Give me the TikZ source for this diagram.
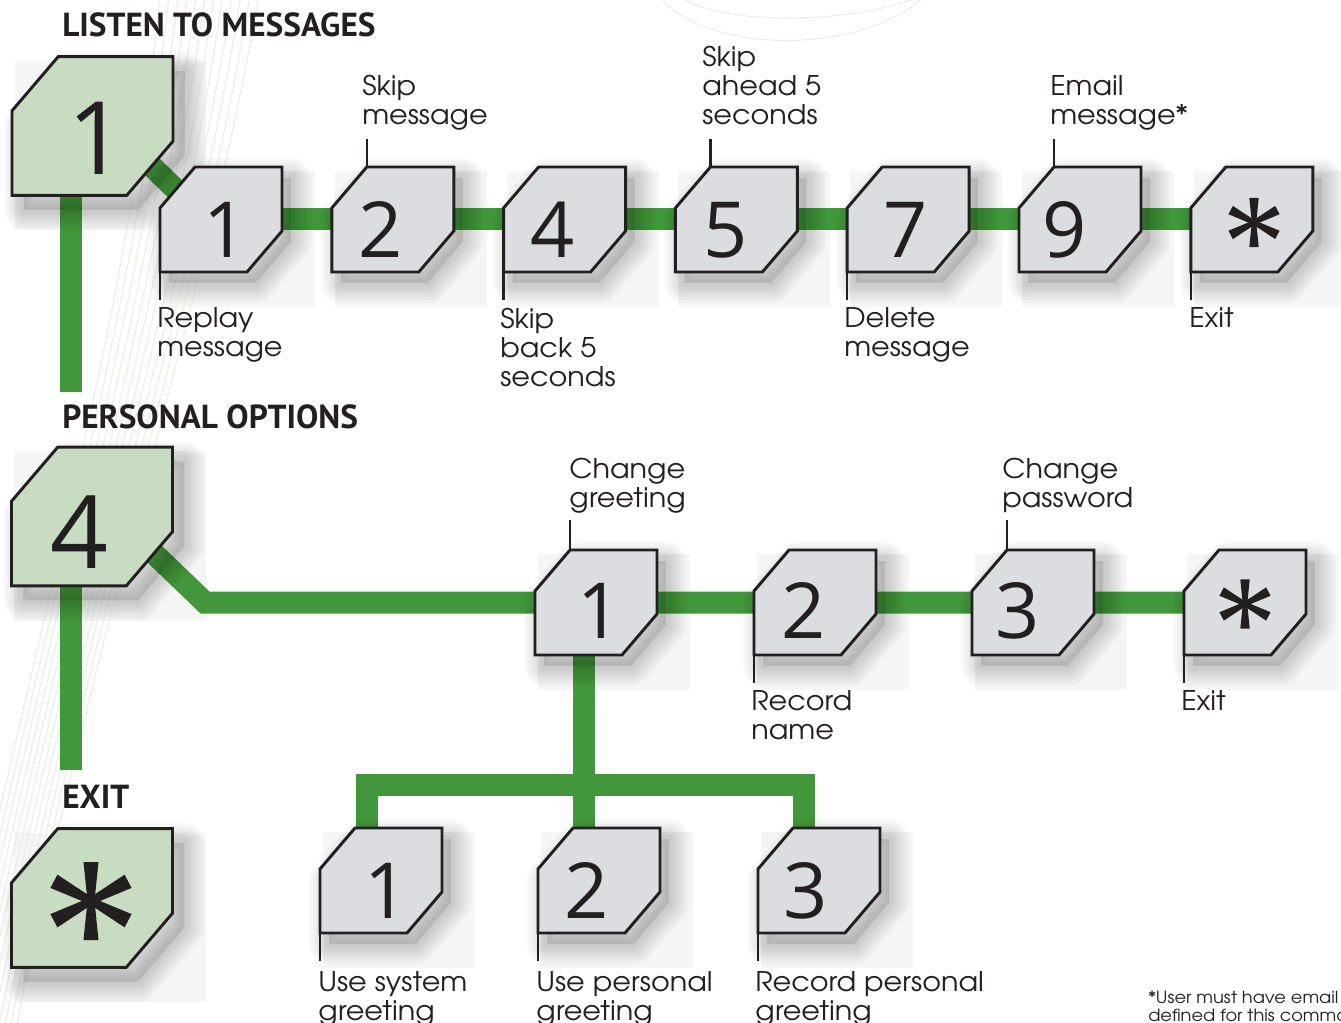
\documentclass[tikz,border=0pt]{standalone}
\usepackage{fontspec}
\setmainfont{texgyreadventor}[Extension=.otf,UprightFont=*-regular,BoldFont=*-bold,ItalicFont=*-italic,BoldItalicFont=*-bolditalic,FakeStretch=1.06]
\newfontfamily\hdfont{PT Sans}
\newfontfamily\digfont{Open Sans}[Numbers=Proportional]
\usetikzlibrary{calc}
\pgfdeclarelayer{boxes}\pgfdeclarelayer{deco}\pgfdeclarelayer{lines}\pgfdeclarelayer{shadows}
\pgfsetlayers{boxes,deco,lines,shadows,main}
\definecolor{ink}{RGB}{35,31,32}
\definecolor{lgreen}{RGB}{66,150,60}
\definecolor{keygrey}{RGB}{220,221,224}
\definecolor{keygreen}{RGB}{200,220,193}
\definecolor{boxgrey}{RGB}{245,245,245}
\definecolor{swooshc}{RGB}{232,238,230}
\newcommand\labfont{\fontsize{20.3}{21.75}\selectfont}
\tikzset{
  keyline/.style={draw=ink,line width=2.2pt,line join=miter},
  greenline/.style={draw=lgreen,line width=16.5pt,line join=miter},
  tickline/.style={draw=ink,line width=1.9pt},
  lab/.style={anchor=base west,align=left,inner sep=0pt,text=ink,font=\labfont},
  hdr/.style={anchor=base west,inner sep=0pt,text=ink,font=\hdfont\bfseries\fontsize{25}{28}\selectfont},
  dig/.style={anchor=base,inner sep=0pt,text=ink,font=\digfont\fontsize{58}{62}\selectfont},
  bigdig/.style={anchor=base,inner sep=0pt,text=ink,font=\digfont\fontsize{76}{80}\selectfont},
  foot/.style={anchor=base west,align=left,inner sep=0pt,text=ink,font=\fontsize{12.6}{13.5}\selectfont},
  swoosh/.style={draw=swooshc,line width=0.8pt},
}
\newcommand\keyshape[5]{%
  \pgfmathsetmacro\khw{61*#4}\pgfmathsetmacro\khh{52.5*#4}%
  \coordinate (#1) at (#2,#3);
  \begin{pgfonlayer}{boxes}
    \fill[boxgrey] ({#2-\khw+3},{#3-\khh+4}) rectangle ({#2+\khw+33},{#3+\khh+35});
  \end{pgfonlayer}
  \begin{scope}[shift={(#2,#3)},scale=#4]
    \begin{pgfonlayer}{shadows}
      \foreach \lw in {30,26,22,18,14,10,6}{
        \draw[black,opacity=.022,line width=\lw pt,line join=round]
          (-17,-41.5) -- (70,-41.5) -- (70,22.5) -- (35,63.5) -- (-52,63.5) -- (-52,-0.5) -- cycle;}
      \fill[black,opacity=.10] (-17,-41.5) -- (70,-41.5) -- (70,22.5) -- (35,63.5) -- (-52,63.5) -- (-52,-0.5) -- cycle;
    \end{pgfonlayer}
    \draw[keyline,fill=#5] (-26,-52.5) -- (61,-52.5) -- (61,11.5) -- (26,52.5) -- (-61,52.5) -- (-61,-11.5) -- cycle;
  \end{scope}}
\newcommand\astk[4]{%
  \begin{scope}[shift={(#2,#3)},scale=#4]
    \coordinate (#1) at (0,0);
    \foreach \a/\l in {90/39,270/39,28/42,152/42,208/42,332/42}{
      \fill[ink,rotate=\a] (0,-3.5) -- (\l,-7.5) -- (\l,7.5) -- (0,3.5) -- cycle;}
  \end{scope}}
\begin{document}
\begin{tikzpicture}[x=0.75pt,y=-0.75pt]
\useasboundingbox (0,0) rectangle (1341,1023);
% background swoosh
\begin{pgfonlayer}{deco}
  \foreach \i in {0,...,11}{
    \draw[swoosh] ({160+9*\i},-5) .. controls ({130+7*\i},300) and ({40+5*\i},620) .. ({-50+6*\i},1030);}
  \draw[swoosh] (680,-3) .. controls (720,25) and (850,25) .. (918,-3);
  \draw[swoosh] (659,-3) .. controls (710,55) and (860,55) .. (924,-3);
\end{pgfonlayer}
% big keys
\keyshape{B1}{92.5}{126}{1.32}{keygreen}
\keyshape{B4}{92}{516.5}{1.32}{keygreen}
\keyshape{BX}{92}{898}{1.32}{keygreen}
% row 1
\keyshape{A1}{221}{219.5}{1}{keygrey}
\keyshape{A2}{392.8}{219.5}{1}{keygrey}
\keyshape{A4}{564.6}{219.5}{1}{keygrey}
\keyshape{A5}{736.4}{219.5}{1}{keygrey}
\keyshape{A7}{908.2}{219.5}{1}{keygrey}
\keyshape{A9}{1080}{219.5}{1}{keygrey}
\keyshape{AX}{1251.8}{219.5}{1}{keygrey}
% row 2
\keyshape{P1}{596}{602.5}{1}{keygrey}
\keyshape{P2}{815}{602.5}{1}{keygrey}
\keyshape{P3}{1033}{602.5}{1}{keygrey}
\keyshape{PX}{1245}{602.5}{1}{keygrey}
% row 3
\keyshape{Q1}{381}{880.5}{1}{keygrey}
\keyshape{Q2}{599}{880.5}{1}{keygrey}
\keyshape{Q3}{819}{880.5}{1}{keygrey}
% free ends / bends
\coordinate (v1) at (71,392);
\coordinate (v4) at (71,770);
\coordinate (bend4) at (205,602.5);
\coordinate (tj) at (584,785);
% connectors
\begin{pgfonlayer}{lines}
  \draw[greenline] ($(B1)+(-21.5,0)$) -- (v1);
  \draw[greenline] ($(B4)+(-21,0)$) -- (v4);
  \draw[greenline] ($(B1)+(42.5,24)$) -- ($(A1)+(-16,-1.5)$);
  \draw[greenline] (A1) -- (A2) -- (A4) -- (A5) -- (A7) -- (A9) -- (AX);
  \draw[greenline] ($(B4)+(48,23.5)$) -- (bend4) -- (P1) -- (P2) -- (P3) -- (PX);
  \draw[greenline] ($(P1)+(-12,0)$) -- (tj);
  \draw[greenline] ($(Q1)+(-14.5,0)$) -- ++(0,-95.5) -| ($(Q3)+(-15,0)$);
  \draw[greenline] ($(Q2)+(-15,0)$) -- (tj);
\end{pgfonlayer}
% digits
\node[bigdig] (B1d) at (95,175) {1};
\node[bigdig] (B4d) at (79,568) {4};
\astk{BXd}{91}{901}{1}
\node[dig] (A1d) at (224,258) {1};
\node[dig] (A2d) at (381,258) {2};
\node[dig] (A4d) at (553,258) {4};
\node[dig] (A5d) at (726,258) {5};
\node[dig] (A7d) at (906,258) {7};
\node[dig] (A9d) at (1065,258) {9};
\astk{AXd}{1254}{222.5}{0.63}
\node[dig] (P1d) at (598,638) {1};
\node[dig] (P2d) at (804,638) {2};
\node[dig] (P3d) at (1018,638) {3};
\astk{PXd}{1245}{604}{0.63}
\node[dig] (Q1d) at (385,918) {1};
\node[dig] (Q2d) at (587,918) {2};
\node[dig] (Q3d) at (806,918) {3};
% ticks
\draw[tickline] ($(A2)+(-26,-52.5)$) -- ++(0,-28);
\draw[tickline] ($(A5)+(-26,-52.5)$) -- ++(0,-28);
\draw[tickline] ($(A9)+(-26,-52.5)$) -- ++(0,-28);
\draw[tickline] ($(A1)+(-61,52.5)$) -- ++(0,28);
\draw[tickline] ($(A4)+(-61,52.5)$) -- ++(0,28);
\draw[tickline] ($(A7)+(-61,52.5)$) -- ++(0,28);
\draw[tickline] ($(AX)+(-61,52.5)$) -- ++(0,28);
\draw[tickline] ($(P1)+(-26,-52.5)$) -- ++(0,-30);
\draw[tickline] ($(P3)+(-26,-52.5)$) -- ++(0,-30);
\draw[tickline] ($(P2)+(-61,52.5)$) -- ++(0,28);
\draw[tickline] ($(PX)+(-61,52.5)$) -- ++(0,28);
\draw[tickline] ($(Q1)+(-61,52.5)$) -- ++(0,28);
\draw[tickline] ($(Q2)+(-61,52.5)$) -- ++(0,28);
\draw[tickline] ($(Q3)+(-61,52.5)$) -- ++(0,28);
% labels (anchor = baseline of last line)
\node[lab] (A2l) at (362,125) {Skip\\message};
\node[lab] (A5l) at (702,125) {Skip\\ahead 5\\seconds};
\node[lab] (A9l) at (1050,125) {Email\\message*};
\node[lab] (A1l) at (157,357) {Replay\\message};
\node[lab] (A4l) at (500,386) {Skip\\back 5\\seconds};
\node[lab] (A7l) at (844,357) {Delete\\message};
\node[lab] (AXl) at (1189,328) {Exit};
\node[lab] (P1l) at (569,507) {Change\\greeting};
\node[lab] (P3l) at (1002,507) {Change\\password};
\node[lab] (P2l) at (751,739) {Record\\name};
\node[lab] (PXl) at (1181,710) {Exit};
\node[lab] (Q1l) at (318,1020) {Use system\\greeting};
\node[lab] (Q2l) at (536,1020) {Use personal\\greeting};
\node[lab] (Q3l) at (755,1020) {Record personal\\greeting};
% headers
\node[hdr] (h1) at (62,37) {LISTEN TO MESSAGES};
\node[hdr] (h2) at (62,428) {PERSONAL OPTIONS};
\node[hdr] (h3) at (62,808) {EXIT};
% footnote
\node[foot] (fn) at (1148,1021) {*User must have email\\defined for this command.};
\end{tikzpicture}
\end{document}
